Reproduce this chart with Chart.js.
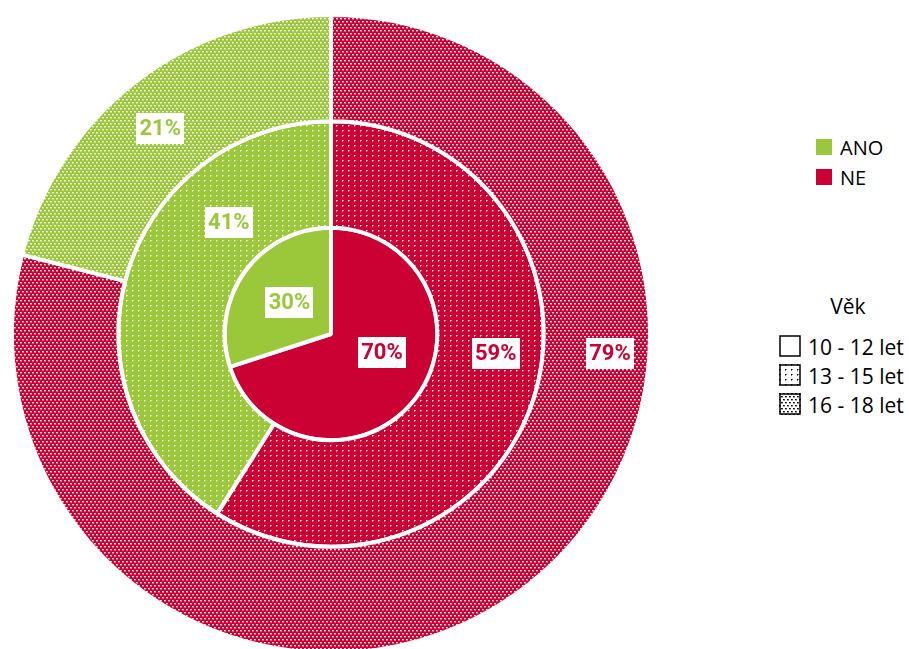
<!DOCTYPE html>
<html><head><meta charset="utf-8">
<script src="https://cdn.jsdelivr.net/npm/chart.js@4.4.0/dist/chart.umd.min.js"></script>
<style>
html,body{margin:0;padding:0;width:909px;height:649px;overflow:hidden;background:#fff;font-family:'Open Sans',sans-serif;}
#wrap{position:absolute;left:0;top:0;width:662px;height:668px;}
.t{position:absolute;color:#000;white-space:nowrap;}
.sq{position:absolute;width:16px;height:16px;}
canvas.box{position:absolute;}
</style>
</head><body>
<div id="wrap"><canvas id="c"></canvas></div>
<div id="legend"></div>
<script>
// ---- data ----
const categories = ['ANO', 'NE'];
const ageGroups = ['10 - 12 let', '13 - 15 let', '16 - 18 let'];
const anoValues = [30, 41, 21];
const neValues = [70, 59, 79];
const legendTitle = 'Věk';

// ---- styles ----
const colors = { ANO: '#9BC83B', NE: '#CB0033' };
const patternTypes = ['solid', 'sparse', 'dense'];
// label anchor: [angle in degrees clockwise from top, radial fraction inside ring]
const labelAnchor = {
  ANO: [[307, 0.49], [317.4, 0.42], [320.2, 0.51]],
  NE:  [[110, 0.51], [96.9, 0.56], [94.1, 0.63]]
};

function makePattern(color, type, dot) {
  if (type === 'solid') return color;
  const c = document.createElement('canvas');
  const g = c.getContext('2d');
  if (type === 'sparse') {
    c.width = 6; c.height = 5;
    g.fillStyle = color; g.fillRect(0, 0, 6, 5);
    g.fillStyle = dot; g.fillRect(0, 0, 1, 1);
    g.globalAlpha = 0.55; g.fillRect(1, 0, 1, 1); g.fillRect(0, 1, 1, 1);
  } else {
    c.width = 4; c.height = 6;
    g.fillStyle = color; g.fillRect(0, 0, 4, 6);
    g.fillStyle = dot; g.fillRect(0, 0, 1, 1); g.fillRect(2, 3, 1, 1);
    g.globalAlpha = 0.75; g.fillRect(1, 0, 1, 1); g.fillRect(3, 3, 1, 1);
    g.globalAlpha = 0.35; g.fillRect(0, 1, 2, 1); g.fillRect(2, 4, 2, 1);
  }
  return document.createElement('canvas').getContext('2d').createPattern(c, 'repeat');
}

// clockwise from the top: NE first, then ANO
const order = ['NE', 'ANO'];
const valuesFor = { ANO: anoValues, NE: neValues };
const datasets = [];
for (let age = ageGroups.length - 1; age >= 0; age--) {  // outermost first
  datasets.push({
    label: ageGroups[age],
    ageIndex: age,
    cats: order,
    data: order.map(k => valuesFor[k][age]),
    backgroundColor: order.map(k => makePattern(colors[k], patternTypes[age], '#ffffff')),
    borderColor: '#ffffff',
    borderWidth: 4,
    hoverOffset: 0
  });
}

const labelPlugin = {
  id: 'ringLabels',
  afterDatasetsDraw(chart) {
    const ctx = chart.ctx;
    ctx.save();
    chart.data.datasets.forEach((ds, di) => {
      const meta = chart.getDatasetMeta(di);
      meta.data.forEach((arc, i) => {
        const cat = ds.cats[i];
        const [deg, frac] = labelAnchor[cat][ds.ageIndex];
        const p = arc.getProps(['x', 'y', 'innerRadius', 'outerRadius'], true);
        const r = p.innerRadius + (p.outerRadius - p.innerRadius) * frac;
        const a = (deg - 90) * Math.PI / 180;
        const px = p.x + r * Math.cos(a), py = p.y + r * Math.sin(a);
        const text = ds.data[i] + '%';
        ctx.font = 'bold 22px Roboto';
        const w = Math.round(ctx.measureText(text).width + 6), h = 31;
        ctx.fillStyle = '#ffffff';
        ctx.fillRect(Math.round(px - w / 2), Math.round(py - h / 2), w, h);
        ctx.fillStyle = colors[cat];
        ctx.textAlign = 'center';
        ctx.textBaseline = 'middle';
        ctx.fillText(text, px, py + 1);
      });
    });
    ctx.restore();
  }
};

new Chart(document.getElementById('c'), {
  type: 'doughnut',
  data: { labels: order, datasets },
  options: {
    responsive: true,
    maintainAspectRatio: false,
    animation: false,
    cutout: 0,
    layout: { padding: { left: 10, right: 10, top: 13, bottom: 13 } },
    plugins: { legend: { display: false }, tooltip: { enabled: false } }
  },
  plugins: [labelPlugin]
});

// ---- legends (HTML text) ----
const L = document.getElementById('legend');
categories.forEach((k, i) => {
  const sq = document.createElement('div');
  sq.className = 'sq';
  sq.style.left = '816px'; sq.style.top = (139 + 30 * i) + 'px';
  sq.style.background = colors[k];
  L.appendChild(sq);
  const t = document.createElement('div');
  t.className = 't';
  t.style.left = '840px'; t.style.top = (138 + 30 * i) + 'px';
  t.style.fontSize = '20px'; t.style.lineHeight = '20px';
  t.textContent = k;
  L.appendChild(t);
});
const title = document.createElement('div');
title.className = 't';
title.style.left = '798px'; title.style.width = '100px'; title.style.textAlign = 'center';
title.style.top = '296px'; title.style.fontSize = '21px'; title.style.lineHeight = '21px';
title.textContent = legendTitle;
L.appendChild(title);
ageGroups.forEach((g, i) => {
  const bc = document.createElement('canvas');
  bc.className = 'box'; bc.width = 22; bc.height = 22;
  bc.style.left = '779px'; bc.style.top = (335 + 29 * i) + 'px';
  const bx = bc.getContext('2d');
  bx.fillStyle = makePattern('#ffffff', patternTypes[i], '#000000');
  bx.fillRect(0, 0, 22, 22);
  bx.strokeStyle = '#000'; bx.lineWidth = 1.5;
  bx.strokeRect(1, 1, 20, 20);
  L.appendChild(bc);
  const t = document.createElement('div');
  t.className = 't';
  t.style.left = '808px'; t.style.top = (337 + 29 * i) + 'px';
  t.style.fontSize = '21px'; t.style.lineHeight = '21px';
  t.textContent = g;
  L.appendChild(t);
});
</script>
</body></html>
